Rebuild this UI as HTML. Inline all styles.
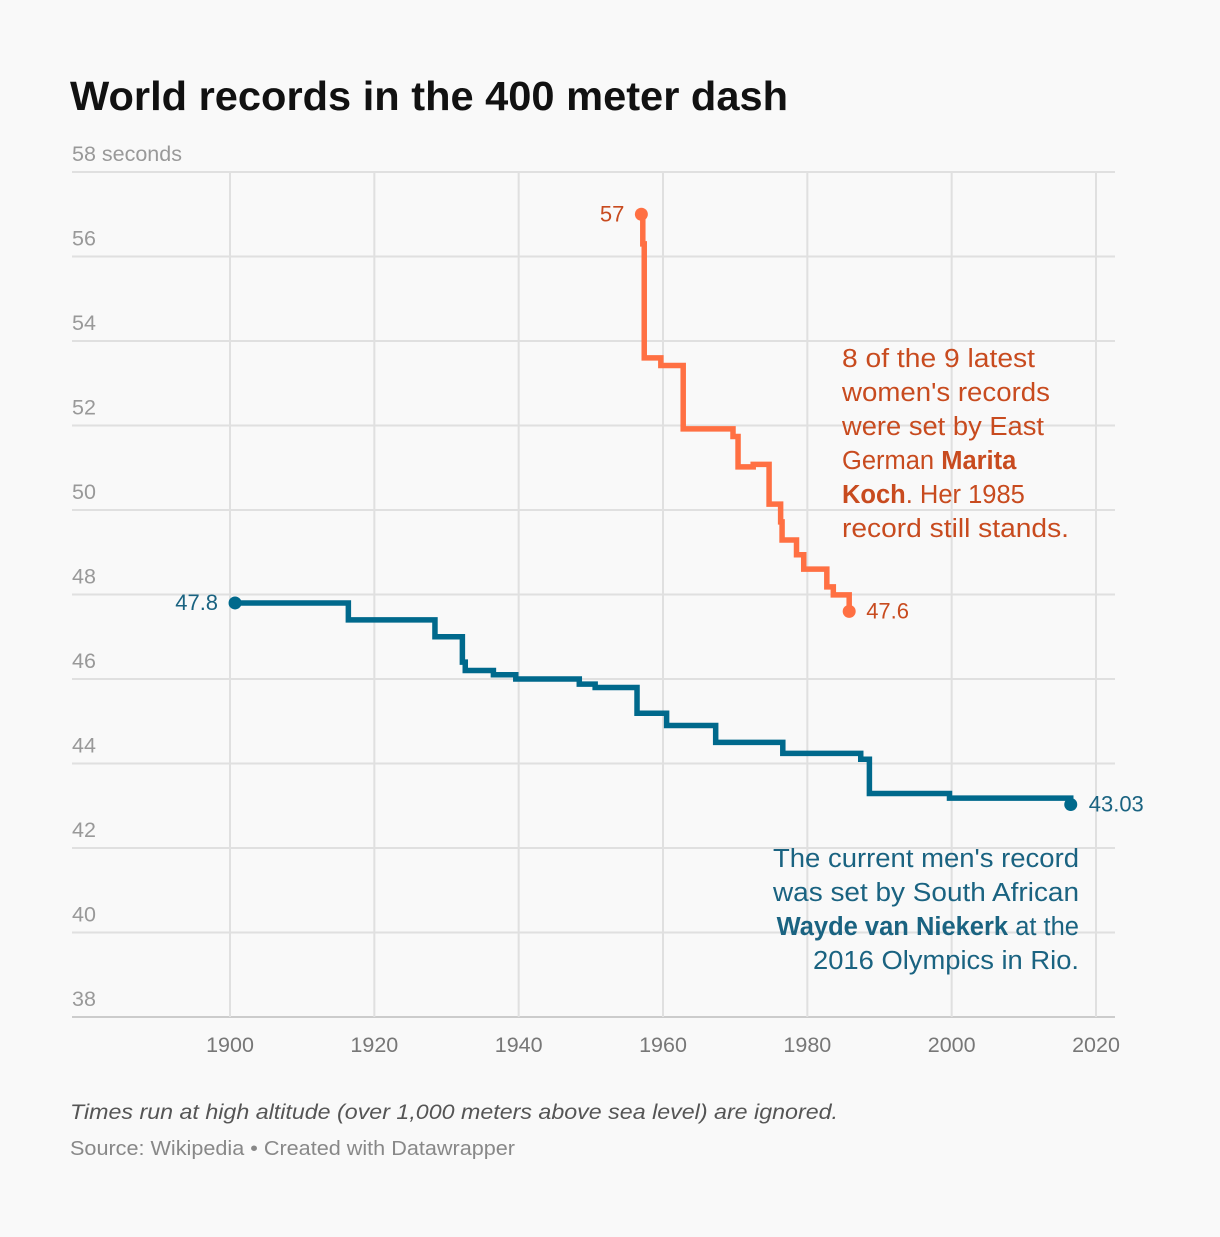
<!DOCTYPE html>
<html><head><meta charset="utf-8"><style>
body{margin:0;background:#f9f9f9;font-family:"Liberation Sans",Roboto,sans-serif;}
svg text{font-family:"Liberation Sans",sans-serif;}
</style></head><body>
<svg id="chart" width="1220" height="1232" xmlns="http://www.w3.org/2000/svg">
<rect width="1220" height="1232" fill="#f9f9f9"/>
<text x="70" y="110" font-size="41" font-weight="bold" fill="#111" textLength="718" lengthAdjust="spacingAndGlyphs">World records in the 400 meter dash</text>
<g id="grid"></g><g id="series"></g>
<g font-size="25.5" fill="#c84b1f">
<text x="842" y="367" textLength="193" lengthAdjust="spacingAndGlyphs">8 of the 9 latest</text>
<text x="842" y="401" textLength="208" lengthAdjust="spacingAndGlyphs">women's records</text>
<text x="842" y="435" textLength="202" lengthAdjust="spacingAndGlyphs">were set by East</text>
<text x="842" y="469">German <tspan font-weight="bold">Marita</tspan></text>
<text x="842" y="503"><tspan font-weight="bold">Koch</tspan>. Her 1985</text>
<text x="842" y="537" textLength="227" lengthAdjust="spacingAndGlyphs">record still stands.</text>
</g>
<g font-size="25.5" fill="#1a6381" text-anchor="end">
<text x="1079" y="867" textLength="306" lengthAdjust="spacingAndGlyphs">The current men's record</text>
<text x="1079" y="901" textLength="306" lengthAdjust="spacingAndGlyphs">was set by South African</text>
<text x="1079" y="935"><tspan font-weight="bold">Wayde van Niekerk</tspan> at the</text>
<text x="1079" y="969" textLength="266" lengthAdjust="spacingAndGlyphs">2016 Olympics in Rio.</text>
</g>
<text x="70" y="1119" font-size="21" font-style="italic" fill="#555" textLength="768" lengthAdjust="spacingAndGlyphs">Times run at high altitude (over 1,000 meters above sea level) are ignored.</text>
<text x="70" y="1155" font-size="20" fill="#888" textLength="445" lengthAdjust="spacingAndGlyphs">Source: Wikipedia • Created with Datawrapper</text>
</svg>
<script>
const yTicks=[58,56,54,52,50,48,46,44,42,40,38];
const xTicks=[1900,1920,1940,1960,1980,2000,2020];
const menYears=[1900.7,1916.4,1928.4,1932.2,1932.6,1936.5,1939.6,1948.4,1950.6,1956.4,1960.5,1967.3,1976.6,1987.4,1988.6,1999.7,2016.5];
const menTimes=[47.8,47.4,47.0,46.4,46.2,46.1,46.0,45.88,45.8,45.19,44.9,44.5,44.24,44.1,43.29,43.18,43.03];
const womenYears=[1957.0,1957.2,1957.4,1959.7,1962.8,1969.7,1970.4,1972.5,1974.7,1976.3,1976.5,1978.5,1979.5,1982.7,1983.6,1985.8];
const womenTimes=[57.0,56.3,53.6,53.42,51.92,51.74,51.02,51.08,50.14,49.72,49.29,48.94,48.6,48.18,47.99,47.6];
const X=v=>230+(v-1900)*(1096-230)/120;
const Y=v=>172+(58-v)*(1017-172)/20;
const NS='http://www.w3.org/2000/svg';
function mk(t,a,p){const e=document.createElementNS(NS,t);for(const k in a)e.setAttribute(k,a[k]);p.appendChild(e);return e;}
const g=document.getElementById('grid');
yTicks.forEach(v=>{
 const l=mk('line',{x1:72,x2:1115,y1:Y(v),y2:Y(v),stroke:v===38?'#ccc':'#e0e0e0','stroke-width':2},g);
 
 
 const t=mk('text',{x:72,y:Y(v)-11,'font-size':21.5,fill:'#999'},g);
 t.textContent=v===58?'58 seconds':v;
 
 
});
xTicks.forEach(v=>{
 const l=mk('line',{x1:X(v),x2:X(v),y1:172,y2:1017,stroke:'#e0e0e0','stroke-width':2},g);
 
 
 const t=mk('text',{x:X(v),y:1052,'font-size':21.5,fill:'#777','text-anchor':'middle'},g);
 t.textContent=v;
 
 
});
const s=document.getElementById('series');
function step(ys,ts,col,name){
 let d='M'+X(ys[0])+','+Y(ts[0]);
 for(let i=1;i<ys.length;i++){d+=' H'+X(ys[i])+' V'+Y(ts[i]);}
 const p=mk('path',{d:d,fill:'none',stroke:col,'stroke-width':5.5,'stroke-linejoin':'miter'},s);
 
 
 [0,ys.length-1].forEach(i=>{
  const c=mk('circle',{cx:X(ys[i]),cy:Y(ts[i]),r:6.5,fill:col},s);
  
  
 });
}
step(menYears,menTimes,'#00698c','men');
step(womenYears,womenTimes,'#ff7043','women');
function lab(x,y,txt,col,anc,name){
 const t=mk('text',{x:x,y:y,'font-size':22,fill:col,'text-anchor':anc},s);
 t.textContent=txt;
 
 
}
const mN=menYears.length-1,wN=womenYears.length-1;
lab(X(menYears[0])-17,Y(menTimes[0])+7,menTimes[0],'#1a6381','end','men-start-label');
lab(X(menYears[mN])+18,Y(menTimes[mN])+7,menTimes[mN].toFixed(2),'#1a6381','start','men-end-label');
lab(X(womenYears[0])-17,Y(womenTimes[0])+7,womenTimes[0].toFixed(0),'#c84b1f','end','women-start-label');
lab(X(womenYears[wN])+17,Y(womenTimes[wN])+7,womenTimes[wN],'#c84b1f','start','women-end-label');
</script>
</body></html>
